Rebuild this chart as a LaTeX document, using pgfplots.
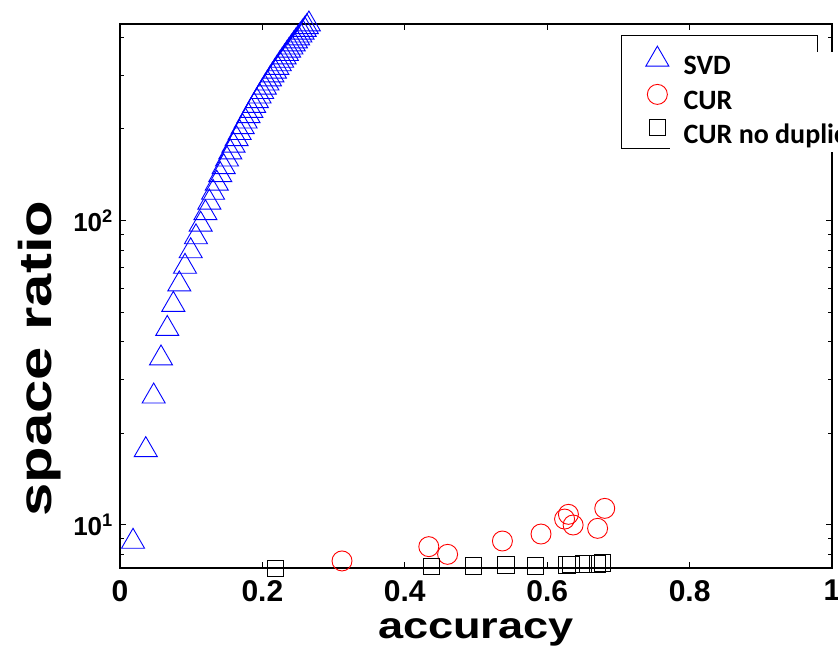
\documentclass[border=0pt]{standalone}
\usepackage{fontspec}
\setmainfont{Liberation Sans}
\newfontfamily\xlabfont[FakeStretch=1.22]{Liberation Sans}
\newfontfamily\ylabfont[FakeStretch=1.3]{Liberation Sans}
\newfontfamily\legfont{Carlito}
\usepackage{pgfplots}
\pgfplotsset{compat=1.18}

\begin{document}
\begin{tikzpicture}
\begin{axis}[
    scale only axis,
    width=712pt, height=544pt,
    xmin=0, xmax=1,
    ymode=log, ymin=7.225, ymax=442,
    clip=false,
    xtick={0,0.2,0.4,0.6,0.8,1},
    xticklabels={0,0.2,0.4,0.6,0.8,1},
    ytick={10,100},
    yticklabels={10\textsuperscript{1},10\textsuperscript{2}},
    minor ytick={8,9,20,30,40,50,60,70,80,90,200,300,400},
    tick align=inside,
    major tick length=6pt, minor tick length=4pt,
    axis line style={line width=1.3pt},
    every tick/.style={line width=1pt, black},
    /pgf/number format/assume math mode=true,
    xticklabel style={font=\bfseries\fontsize{30}{30}\selectfont, anchor=north, inner sep=0pt, yshift=-12pt},
    yticklabel style={font=\bfseries\fontsize{26}{26}\selectfont, anchor=east, inner sep=0pt, xshift=-7pt},
    xlabel={accuracy},
    ylabel={space ratio},
    xlabel style={font=\xlabfont\bfseries\fontsize{37}{37}\selectfont, at={(axis description cs:0.5,-0.1287)}, anchor=base, inner sep=0pt},
    ylabel style={font=\ylabfont\bfseries\fontsize{46}{46}\selectfont, at={(axis description cs:-0.0955,0.385)}, anchor=base, inner sep=0pt},
    legend image code/.code={
        \path (0pt,0pt) (51pt,0pt);
        \draw[#1, only marks] plot coordinates {(27pt,7pt)};
    },
    legend style={at={(axis description cs:0.705,0.978)}, anchor=north west,
        draw=none, fill=none, row sep=6pt, inner xsep=8pt, inner ysep=10pt,
        font=\legfont\bfseries\fontsize{28}{28}\selectfont},
    legend cell align=left,
]
\coordinate (bbsw) at (rel axis cs:0,0);
\coordinate (bbne) at (rel axis cs:1,1);

\addplot[only marks, blue, mark=triangle, mark size=13.3pt, mark options={line width=0.9pt}] coordinates {
(0.0183,8.82) (0.0362,17.64) (0.0473,26.46) (0.0576,35.28) (0.0664,44.1)
(0.0749,52.92) (0.0833,61.74) (0.0913,70.56) (0.0993,79.38) (0.1067,88.2)
(0.1133,97.02) (0.1200,105.84) (0.1255,114.66) (0.1307,123.48) (0.1359,132.3)
(0.1408,141.12) (0.1456,149.94) (0.1503,158.76) (0.1549,167.58) (0.1594,176.4)
(0.1638,185.22) (0.1681,194.04) (0.1723,202.86) (0.1764,211.68) (0.1805,220.5)
(0.1845,229.32) (0.1884,238.14) (0.1922,246.96) (0.1960,255.78) (0.1997,264.6)
(0.2034,273.42) (0.2070,282.24) (0.2106,291.06) (0.2141,299.88) (0.2176,308.7)
(0.2210,317.52) (0.2244,326.34) (0.2278,335.16) (0.2311,343.98) (0.2344,352.8)
(0.2376,361.62) (0.2408,370.44) (0.2440,379.26) (0.2471,388.08) (0.2502,396.9)
(0.2533,405.72) (0.2564,414.54) (0.2594,423.36) (0.2624,432.18) (0.2653,441)
};
\addlegendentry{SVD}

\addplot[only marks, red, mark=o, mark size=10pt, mark options={line width=0.9pt}] coordinates {
(0.3118,7.62) (0.4337,8.49) (0.4601,8.01) (0.5371,8.86) (0.5913,9.34)
(0.6244,10.46) (0.6298,10.84) (0.6364,10.0) (0.6708,9.75) (0.6808,11.34)
};
\addlegendentry{CUR}

\addplot[only marks, black, mark=square, mark size=8.3pt, mark options={line width=0.9pt}] coordinates {
(0.2184,7.21) (0.4376,7.30) (0.4966,7.34) (0.5417,7.39) (0.5834,7.35)
(0.6278,7.39) (0.6334,7.41) (0.6510,7.45) (0.6708,7.45) (0.6775,7.49)
};
\addlegendentry{CUR no duplicates}

% legend frame, partly hidden behind the white text block as in the original
\draw[line width=1pt, fill=white] (axis description cs:0.705,0.978) rectangle (axis description cs:0.979,0.772);
\fill[white] (axis description cs:0.7725,0.9485) rectangle (axis description cs:1.02,0.765);
\end{axis}
\pgfresetboundingbox
\useasboundingbox ([shift={(-120pt,-87pt)}]bbsw) rectangle ([shift={(6pt,24pt)}]bbne);
\end{tikzpicture}
\end{document}
